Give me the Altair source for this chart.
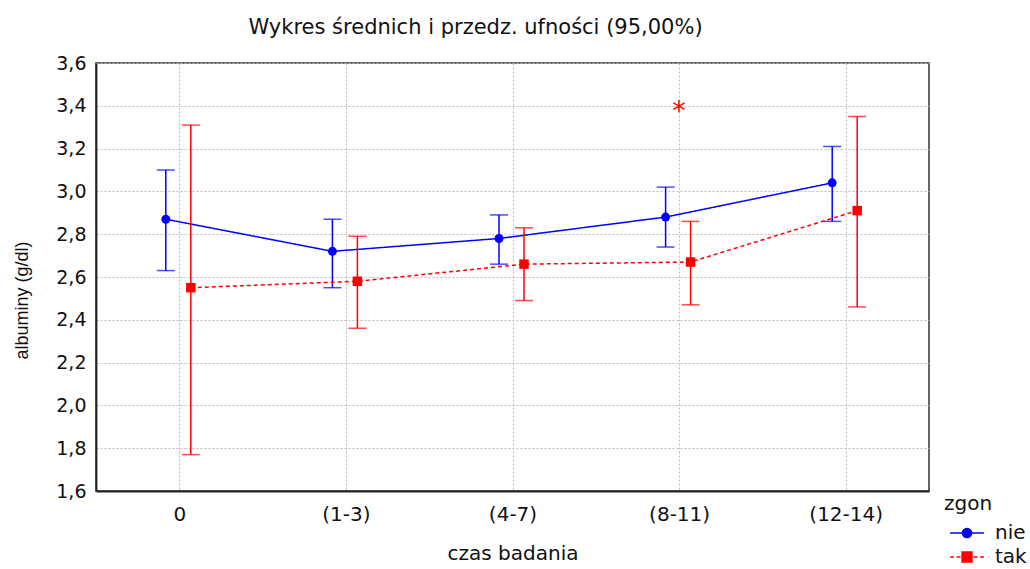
import altair as alt
import pandas as pd

# Measurement periods and the two outcome groups
categories = ["0", "(1-3)", "(4-7)", "(8-11)", "(12-14)"]
groups = ["nie", "tak"]
colors = ["#0000ff", "#ff0000"]

# Means and 95% confidence limits of albumin (g/dl)
nie_mean = [2.87, 2.72, 2.78, 2.88, 3.04]
nie_low = [2.63, 2.55, 2.66, 2.74, 2.86]
nie_high = [3.10, 2.87, 2.89, 3.02, 3.21]

tak_mean = [2.55, 2.58, 2.66, 2.67, 2.91]
tak_low = [1.77, 2.36, 2.49, 2.47, 2.46]
tak_high = [3.31, 2.79, 2.83, 2.86, 3.35]

# Significance marker
star_category = "(8-11)"
star_value = 3.40

y_ticks = [1.6, 1.8, 2.0, 2.2, 2.4, 2.6, 2.8, 3.0, 3.2, 3.4, 3.6]

rows = []
for g, means, lows, highs in [
    ("nie", nie_mean, nie_low, nie_high),
    ("tak", tak_mean, tak_low, tak_high),
]:
    for i, c in enumerate(categories):
        rows.append({"zgon": g, "idx": i, "czas": c,
                     "mean": means[i], "low": lows[i], "high": highs[i]})
df = pd.DataFrame(rows)
star_df = pd.DataFrame({"idx": [categories.index(star_category)], "val": [star_value]})

FONT = "DejaVu Sans"
VFONT = "Liberation Sans"
W, H = 833, 428

# side-by-side dodge of the two groups within each period (in category units)
dodge = {"nie": -0.081, "tak": 0.069}

label_expr = "[" + ",".join(f"'{c}'" for c in categories) + "][datum.value]"

x_scale = alt.Scale(domain=[-0.5, len(categories) - 0.5], nice=False, zero=False)
x_enc = alt.X(
    "xpos:Q", scale=x_scale,
    axis=alt.Axis(
        values=list(range(len(categories))), labelExpr=label_expr,
        labelFontSize=20, labelPadding=13,
        title="czas badania", titleFontSize=20, titlePadding=19,
    ),
)
y_scale = alt.Scale(domain=[1.6, 3.6], nice=False, zero=False)
y_axis = alt.Axis(
    values=y_ticks,
    labelExpr="replace(format(datum.value, '.1f'), '.', ',')",
    labelFontSize=19, labelPadding=10,
    title="albuminy (g/dl)", titleFont=VFONT, titleFontSize=18,
    titleX=-74, titleY=237, titleBaseline="middle", titleAngle=270,
)

base = alt.Chart(df).transform_calculate(
    xpos=f"datum.idx + (datum.zgon === 'nie' ? {dodge['nie']} : {dodge['tak']})"
)


def group_layers(group, color, dash, shape, size):
    """Line, confidence bars with caps and mean markers of one group."""
    g = base.transform_filter(f"datum.zgon === '{group}'")
    line = g.mark_line(color=color, strokeWidth=1.5, strokeDash=dash).encode(
        x=x_enc, y=alt.Y("mean:Q", scale=y_scale, axis=y_axis)
    )
    bar = g.mark_rule(color=color, strokeWidth=1.5).encode(
        x=x_enc, y=alt.Y("low:Q", scale=y_scale), y2="high:Q"
    )
    cap_lo = g.mark_tick(color=color, orient="horizontal", size=18, thickness=1.5).encode(
        x=x_enc, y=alt.Y("low:Q", scale=y_scale)
    )
    cap_hi = g.mark_tick(color=color, orient="horizontal", size=18, thickness=1.5).encode(
        x=x_enc, y=alt.Y("high:Q", scale=y_scale)
    )
    pts = g.mark_point(color=color, shape=shape, filled=True, size=size, opacity=1).encode(
        x=x_enc, y=alt.Y("mean:Q", scale=y_scale)
    )
    return [line, bar, cap_lo, cap_hi, pts]


nie_layers = group_layers("nie", colors[0], [1, 0], "circle", 80)
tak_layers = group_layers("tak", colors[1], [4, 3], "square", 90)

# legend symbols: marker with a line through it (dashed for "tak")
sym_nie = "M-1.3,0H1.3M0.35,0A0.35,0.35,0,1,1,-0.35,0A0.35,0.35,0,1,1,0.35,0Z"
sym_tak = ("M-1.3,0H-1.0M-0.8,0H-0.5M0.5,0H0.8M1.0,0H1.3"
           "M-0.38,-0.38H0.38V0.38H-0.38Z")

legend = alt.Legend(
    title="zgon", orient="none", legendX=848, legendY=431,
    titleFontSize=20, titleFontWeight="normal", titleFont=FONT, titleColor="#111",
    titlePadding=5,
    labelFontSize=20, labelFont=FONT, labelColor="#111", labelOffset=14,
    symbolSize=676, symbolOffset=9, symbolStrokeWidth=1.5, symbolOpacity=1,
    rowPadding=0,
)

# layer with no rows that only carries the legend
key = base.transform_filter("false").mark_point(filled=True, strokeWidth=1.5).encode(
    x=x_enc, y=alt.Y("mean:Q", scale=y_scale),
    fill=alt.Fill("zgon:N", scale=alt.Scale(domain=groups, range=colors), legend=legend),
    stroke=alt.Stroke("zgon:N", scale=alt.Scale(domain=groups, range=colors), legend=legend),
    shape=alt.Shape("zgon:N", scale=alt.Scale(domain=groups, range=[sym_nie, sym_tak]), legend=legend),
)

star = alt.Chart(star_df).mark_text(
    text="*", color="#ff0000", fontSize=27, font=FONT, baseline="alphabetic", dy=14
).encode(
    x=alt.X("idx:Q", scale=x_scale),
    y=alt.Y("val:Q", scale=y_scale),
)

chart = alt.layer(*nie_layers, *tak_layers, key, star).properties(
    width=W, height=H,
    background="white",
    autosize=alt.AutoSizeParams(type="none"),
    padding={"left": 96, "top": 63, "right": 101, "bottom": 78},
    title=alt.Title(
        "Wykres średnich i przedz. ufności (95,00%)",
        fontSize=21, fontWeight="normal", font=FONT, color="#111",
        anchor="middle", offset=16, dx=-37,
    ),
).configure_view(
    stroke="#333", strokeWidth=1.5
).configure_axis(
    labelFont=FONT, labelColor="#111",
    titleFont=FONT, titleFontWeight="normal", titleColor="#111",
    domainColor="#222", domainWidth=1.8,
    gridColor="#bdbdbd", gridDash=[2, 2], gridWidth=1,
    ticks=False,
)

chart.save("out.html", embed_options={"renderer": "svg", "actions": False})
